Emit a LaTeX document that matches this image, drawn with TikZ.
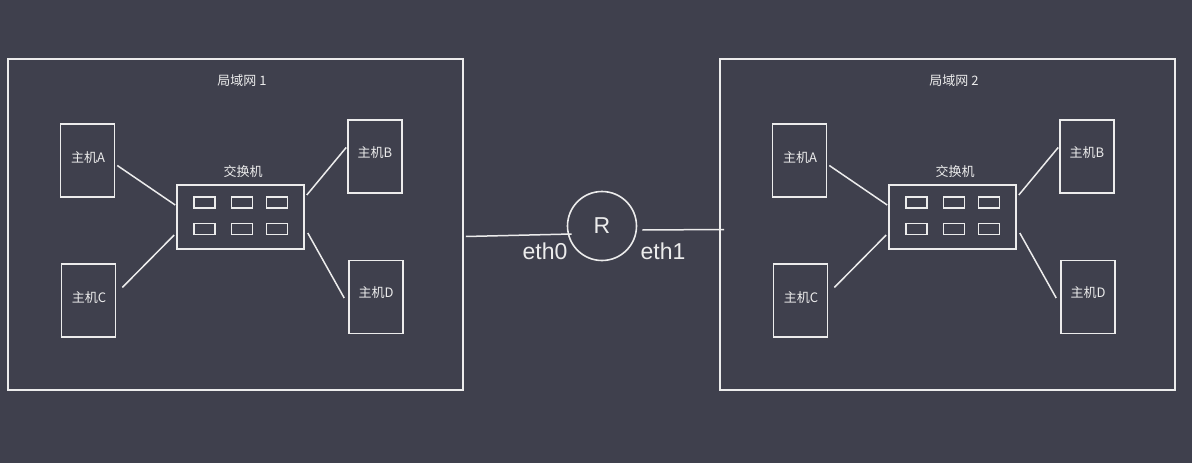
\documentclass[tikz,border=0pt]{standalone}
\usepackage{fontspec}
\setmainfont{Liberation Sans}
\newfontfamily\cjk{Noto Sans CJK SC}
\definecolor{bg}{RGB}{63,64,77}
\definecolor{ink}{RGB}{236,236,236}
\tikzset{
  sk/.style={draw=ink, line width=1.6pt},
  lanbox/.style={sk, minimum width=455pt, minimum height=331pt, inner sep=0pt},
  hostbox/.style={sk, minimum width=54pt, minimum height=73pt, inner sep=0pt},
  swbox/.style={sk, minimum width=127pt, minimum height=64pt, inner sep=0pt},
  portbox/.style={draw=ink, line width=1.4pt, minimum width=21pt, minimum height=11pt, inner sep=0pt},
  lbl/.style={text=ink, font=\cjk\fontsize{13}{15}\selectfont, inner sep=0pt},
  link/.style={draw=ink, line width=1.5pt},
  big/.style={text=ink, font=\fontsize{23}{25}\selectfont, inner sep=0pt},
}
\newcommand{\lanpic}[3]{% #1 suffix, #2 x shift, #3 number
  \begin{scope}[shift={(#2,0)}]
    \node[lanbox] (lan#1) at (235.5,224.5) {};
    \node[lbl] (title#1) at (242,81) {局域网 #3};
    \node[hostbox] (hA#1) at (87.5,160.5) {};
    \node[lbl] (tA#1) at (88,158) {主机A};
    \node[hostbox] (hB#1) at (375,156.5) {};
    \node[lbl] (tB#1) at (375,153) {主机B};
    \node[hostbox] (hC#1) at (88.5,300.5) {};
    \node[lbl] (tC#1) at (89,298) {主机C};
    \node[hostbox] (hD#1) at (376,297) {};
    \node[lbl] (tD#1) at (376,293) {主机D};
    \node[swbox] (sw#1) at (240.5,217) {};
    \node[lbl] (tsw#1) at (243,172) {交换机};
    \node[portbox] (p1#1) at (204.5,202.5) {};
    \node[portbox] (p2#1) at (242,202.5) {};
    \node[portbox] (p3#1) at (277,202.5) {};
    \node[portbox] (p4#1) at (204.5,229) {};
    \node[portbox] (p5#1) at (242,229) {};
    \node[portbox] (p6#1) at (277,229) {};
    \draw[link] ([shift={(2pt,-5pt)}]hA#1.east) -- ([shift={(-1pt,12pt)}]sw#1.west);
    \draw[link] ([shift={(6pt,13pt)}]hC#1.east) -- ([shift={(-2pt,-18pt)}]sw#1.west);
    \draw[link] ([shift={(2pt,22pt)}]sw#1.east) -- ([shift={(-1pt,9pt)}]hB#1.west);
    \draw[link] ([shift={(3pt,-16pt)}]sw#1.east) -- ([shift={(-4pt,-1pt)}]hD#1.west);
  \end{scope}
}
\begin{document}
\begin{tikzpicture}[x=1pt,y=-1pt]
  \fill[bg] (0,0) rectangle (1192,463);
  \useasboundingbox (0,0) rectangle (1192,463);
  \lanpic{L}{0}{1}
  \lanpic{R}{712}{2}
  \node[sk, circle, minimum size=69pt, inner sep=0pt] (rt) at (602,226) {};
  \node[big] (rlabel) at (602,226) {R};
  \node[big, anchor=base] (eth0) at (545,259) {eth0};
  \node[big, anchor=base] (eth1) at (663,259) {eth1};
  \draw[link] ([shift={(2pt,-12pt)}]lanL.east) -- ([shift={(5pt,-8pt)}]rt.west);
  \draw[link] ([shift={(5pt,-4pt)}]rt.east) -- ([shift={(5pt,-5pt)}]lanR.west);
\end{tikzpicture}
\end{document}
